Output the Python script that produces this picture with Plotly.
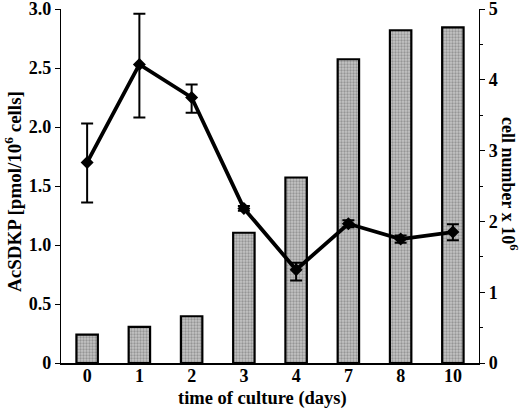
import plotly.graph_objects as go

days = ["0", "1", "2", "3", "4", "7", "8", "10"]
cell_number = [0.40, 0.51, 0.66, 1.84, 2.62, 4.29, 4.70, 4.74]
acsdkp = [1.70, 2.53, 2.25, 1.31, 0.79, 1.18, 1.05, 1.11]
err_plus = [0.33, 0.43, 0.11, 0.02, 0.06, 0.03, 0.03, 0.065]
err_minus = [0.34, 0.45, 0.13, 0.02, 0.09, 0.03, 0.03, 0.07]
left_ticks = [0, 0.5, 1.0, 1.5, 2.0, 2.5, 3.0]
left_labels = ["0", "0.5", "1.0", "1.5", "2.0", "2.5", "3.0"]
right_ticks = [0, 1, 2, 3, 4, 5]

FONT = "Liberation Serif"
TF = dict(family=FONT, size=18, color="black")

fig = go.Figure()
fig.add_trace(go.Bar(
    x=days, y=cell_number, yaxis="y", width=0.41,
    marker=dict(color="#b0b0b0", line=dict(color="black", width=2.2),
                pattern=dict(shape=".", fgcolor="#666666", bgcolor="#c4c4c4",
                             size=3, solidity=0.45)),
    showlegend=False,
))
fig.add_trace(go.Scatter(
    x=days, y=acsdkp, yaxis="y2", mode="lines+markers",
    line=dict(color="black", width=3.8),
    marker=dict(symbol="diamond", size=10, color="black"),
    error_y=dict(type="data", symmetric=False, array=err_plus, arrayminus=err_minus,
                 color="black", thickness=2, width=6),
    showlegend=False,
))

PW, PH = 418, 354
fig.update_layout(
    width=520, height=409,
    margin=dict(l=61, r=41, t=9, b=46),
    plot_bgcolor="white", paper_bgcolor="white",
    font=dict(family=FONT, size=16, color="black"),
    xaxis=dict(
        type="category", range=[-0.5, 7.5], automargin=False,
        tickvals=days, ticktext=["<b>%s</b>" % d for d in days],
        showline=True, linecolor="black", linewidth=1.5,
        ticks="", showgrid=False, zeroline=False,
        tickfont=TF, ticklabeloverflow="allow", ticklabelstandoff=-4,
    ),
    yaxis=dict(
        side="right", range=[0, 5], automargin=False,
        tickvals=right_ticks, ticktext=["<b>%d</b>" % v for v in right_ticks],
        showline=True, linecolor="black", linewidth=1.2,
        ticks="outside", ticklen=5, tickwidth=1.2, tickcolor="black",
        minor=dict(dtick=0.5, ticks="outside", ticklen=3, tickcolor="black", tickwidth=1),
        showgrid=False, zeroline=False,
        tickfont=TF, ticklabeloverflow="allow",
    ),
    yaxis2=dict(
        side="left", overlaying="y", range=[0, 3], automargin=False,
        tickvals=left_ticks, ticktext=["<b>%s</b>" % t for t in left_labels],
        showline=True, linecolor="black", linewidth=1.2,
        ticks="outside", ticklen=5, tickwidth=1.2, tickcolor="black",
        showgrid=False, zeroline=False,
        tickfont=TF, ticklabeloverflow="allow",
    ),
    annotations=[
        dict(text="<b>AcSDKP [pmol/10<sup>6</sup> cells]</b>", textangle=-90,
             xref="paper", yref="paper", x=(13 - 61) / PW, y=(363 - 192) / PH,
             xanchor="center", yanchor="middle", showarrow=False,
             font=dict(family=FONT, size=19, color="black")),
        dict(text="<b>cell number x 10<sup>6</sup></b>", textangle=90,
             xref="paper", yref="paper", x=(510 - 61) / PW, y=(363 - 183) / PH,
             xanchor="center", yanchor="middle", showarrow=False,
             font=dict(family=FONT, size=18, color="black")),
        dict(text="<b>time of culture (days)</b>",
             xref="paper", yref="paper", x=(262 - 61) / PW, y=(363 - 398) / PH,
             xanchor="center", yanchor="middle", showarrow=False,
             font=dict(family=FONT, size=18.5, color="black")),
    ],
)

fig.write_html("out.html", config={"displayModeBar": False},
               post_script="document.body.style.margin='0';document.body.style.padding='0';")
